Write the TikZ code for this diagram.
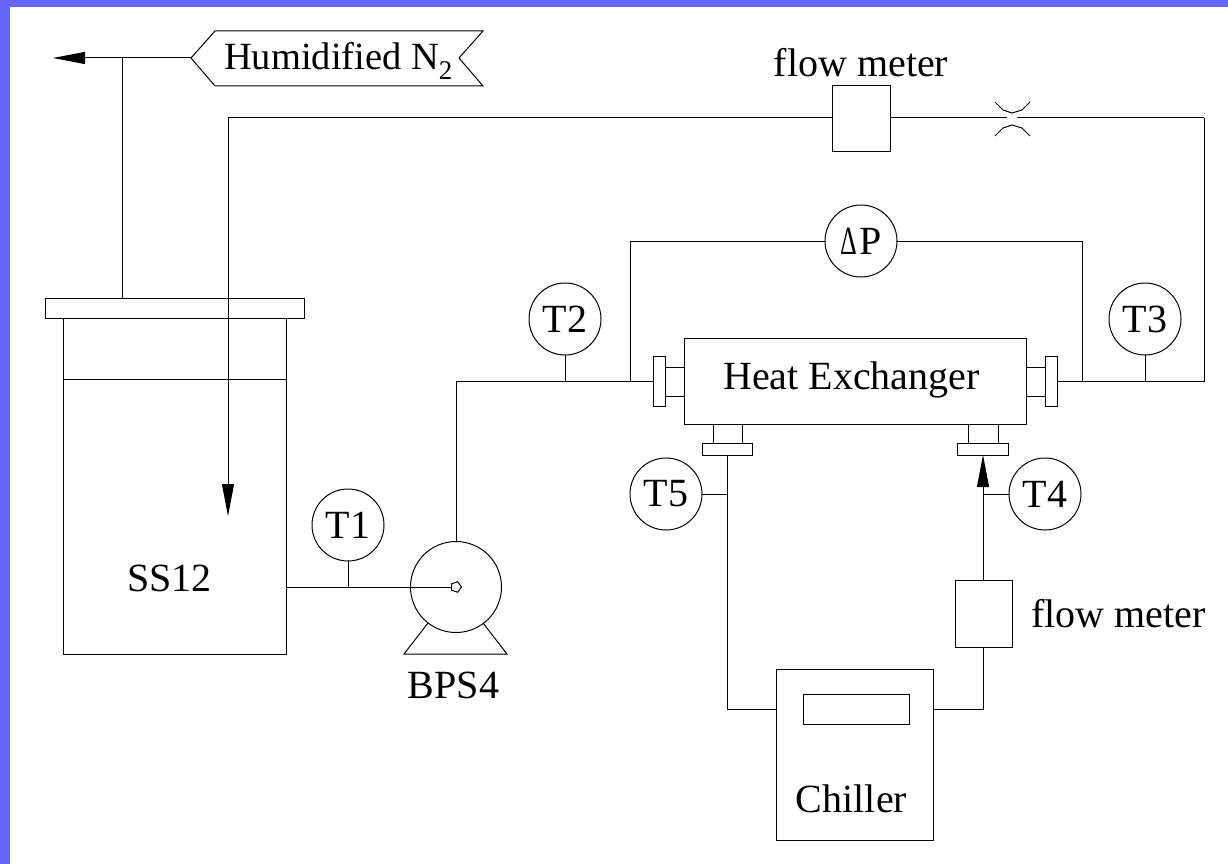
\documentclass[tikz,border=0pt]{standalone}
\usepackage{fontspec}
\setmainfont{Liberation Serif}
\usetikzlibrary{arrows.meta,shapes.geometric}
\tikzset{
  x=1pt,y=-1pt,
  every path/.style={line width=1pt},
  lbl/.style={inner sep=0,outer sep=0,anchor=base,font=\fontsize{40}{44}\selectfont},
  box/.style={draw,inner sep=0,outer sep=0,anchor=north west},
  gauge/.style={draw,circle,inner sep=0,outer sep=0,minimum size=72pt,font=\fontsize{40}{44}\selectfont},
  tip/.style={-{Triangle[length=32pt,width=12pt]}}
}
\newcommand{\boxat}[5]{\node[box,minimum width=#4 pt-#2 pt,minimum height=#5 pt-#3 pt] (#1) at (#2,#3) {};}
\definecolor{band}{HTML}{6666FF}
\begin{document}
\begin{tikzpicture}
\useasboundingbox (0,0) rectangle (1228,864);
\fill[band] (0,0) rectangle (1228,7);
\fill[band] (0,0) rectangle (10,864);

% supply tag
\coordinate (ftip) at (191,58);
\coordinate (ftl) at (215,31);
\coordinate (ftr) at (483,31);
\coordinate (fn) at (459,58);
\coordinate (fbr) at (483,86);
\coordinate (fbl) at (215,86);
\draw (ftip) -- (ftl) -- (ftr) -- (fn) -- (fbr) -- (fbl) -- cycle;
\node[lbl,font=\fontsize{38.5}{44}\selectfont] (humid) at (338.5,70) {Humidified N\textsubscript{2}};
\coordinate (outend) at (53,58);
\draw[tip] (ftip) -- (outend);

% tank
\boxat{lid}{45}{298}{304}{318}
\boxat{tank}{63}{318}{286}{654}
\coordinate (lvlL) at (63,379);
\coordinate (lvlR) at (286,379);
\draw (lvlL) -- (lvlR);
\node[lbl] (ss) at (169.5,591) {SS12};
\coordinate (ventj) at (122,58);
\draw (ventj) -- (ventj |- lid.north);

% pump
\node[draw,circle,inner sep=0,outer sep=0,minimum size=91pt] (pump) at (456,587) {};
\node[draw,regular polygon,regular polygon sides=5,shape border rotate=-90,inner sep=0,outer sep=0,minimum size=11pt] (eye) at (456,587) {};
\coordinate (bl) at (404,654);
\coordinate (br) at (507,654);
\coordinate (bla) at (428,623);
\coordinate (bra) at (483,623);
\draw (bla) -- (bl) -- (br) -- (bra);
\node[lbl] (bps) at (453.5,698) {BPS4};

% gauges
\node[gauge] (T1) at (348,525) {T1};
\node[gauge] (T2) at (565,319) {T2};
\node[gauge] (T3) at (1145,319) {T3};
\node[gauge] (T4) at (1045,494) {T4};
\node[gauge] (T5) at (666,494) {T5};
\node[gauge] (dP) at (861,241) {\scalebox{.65}[1]{Δ}\hspace{3pt}P};

\draw (tank.east |- pump) -- (eye.west);
\draw (T1.south) -- (T1.south |- pump);

% heat exchanger
\boxat{hx}{684}{338}{1026}{424}
\node[lbl] (hxt) at (851.5,389) {Heat Exchanger};
\boxat{fl}{653}{356}{665}{406}
\boxat{fr}{1045}{356}{1057}{406}
\boxat{fb1}{702}{443}{752}{455}
\boxat{fb2}{957}{443}{1008}{455}
\foreach \yy in {367,396}{
  \draw (fl.east |- 0,\yy) -- (hx.west |- 0,\yy);
  \draw (hx.east |- 0,\yy) -- (fr.west |- 0,\yy);
}
\foreach \xx in {713,742}{\draw (\xx,424) -- (\xx,443);}
\foreach \xx in {968,998}{\draw (\xx,424) -- (\xx,443);}

% main loop
\coordinate (pl) at (653,381);
\coordinate (pr) at (1057,381);
\draw (pump.north) -- (pump.north |- pl) -- (fl.west |- pl);
\draw (T2.south) -- (T2.south |- pl);
\coordinate (cornerE) at (1204,381);
\coordinate (rtop) at (1204,118);
\draw (fr.east |- pr) -- (cornerE) -- (rtop);
\draw (T3.south) -- (T3.south |- pr);

% dP
\coordinate (dl) at (630,241);
\coordinate (dr) at (1082,241);
\draw (dP.west) -- (dl) -- (dl |- pl);
\draw (dP.east) -- (dr) -- (dr |- pr);

% top flow meter and return
\boxat{fm1}{832}{86}{890}{151}
\node[lbl] (fm1t) at (861,77) {flow meter};
\coordinate (ol) at (1007,118);
\coordinate (orr) at (1017,118);
\draw (rtop) -- (orr);
\draw (fm1.east |- ol) -- (ol);
\coordinate (dip) at (228,516);
\coordinate (ret) at (228,118);
\draw[tip] (fm1.west |- ret) -- (ret) -- (dip);
\draw (995,102) -- (1003,110) -- (1012,113) -- (1022,110) -- (1030,102);
\draw (995,136) -- (1003,128) -- (1012,125) -- (1022,128) -- (1030,136);

% chiller loop
\boxat{ch}{776}{669}{933}{840}
\boxat{disp}{803}{694}{909}{724}
\node[lbl] (cht) at (851.5,812) {Chiller};
\boxat{fm2}{955}{580}{1012}{647}
\node[lbl,anchor=base west] (fm2t) at (1031,627) {flow meter};
\coordinate (cl) at (727,709);
\coordinate (cr) at (983,709);
\coordinate (inl) at (983,455);
\draw (727,455) -- (cl) -- (ch.west |- cl);
\draw (T5.east) -- (T5.east -| cl);
\draw (ch.east |- cr) -- (cr) -- (cr |- fm2.south);
\draw[tip] (inl |- fm2.north) -- (inl);
\draw (T4.west) -- (T4.west -| inl);
\end{tikzpicture}
\end{document}
